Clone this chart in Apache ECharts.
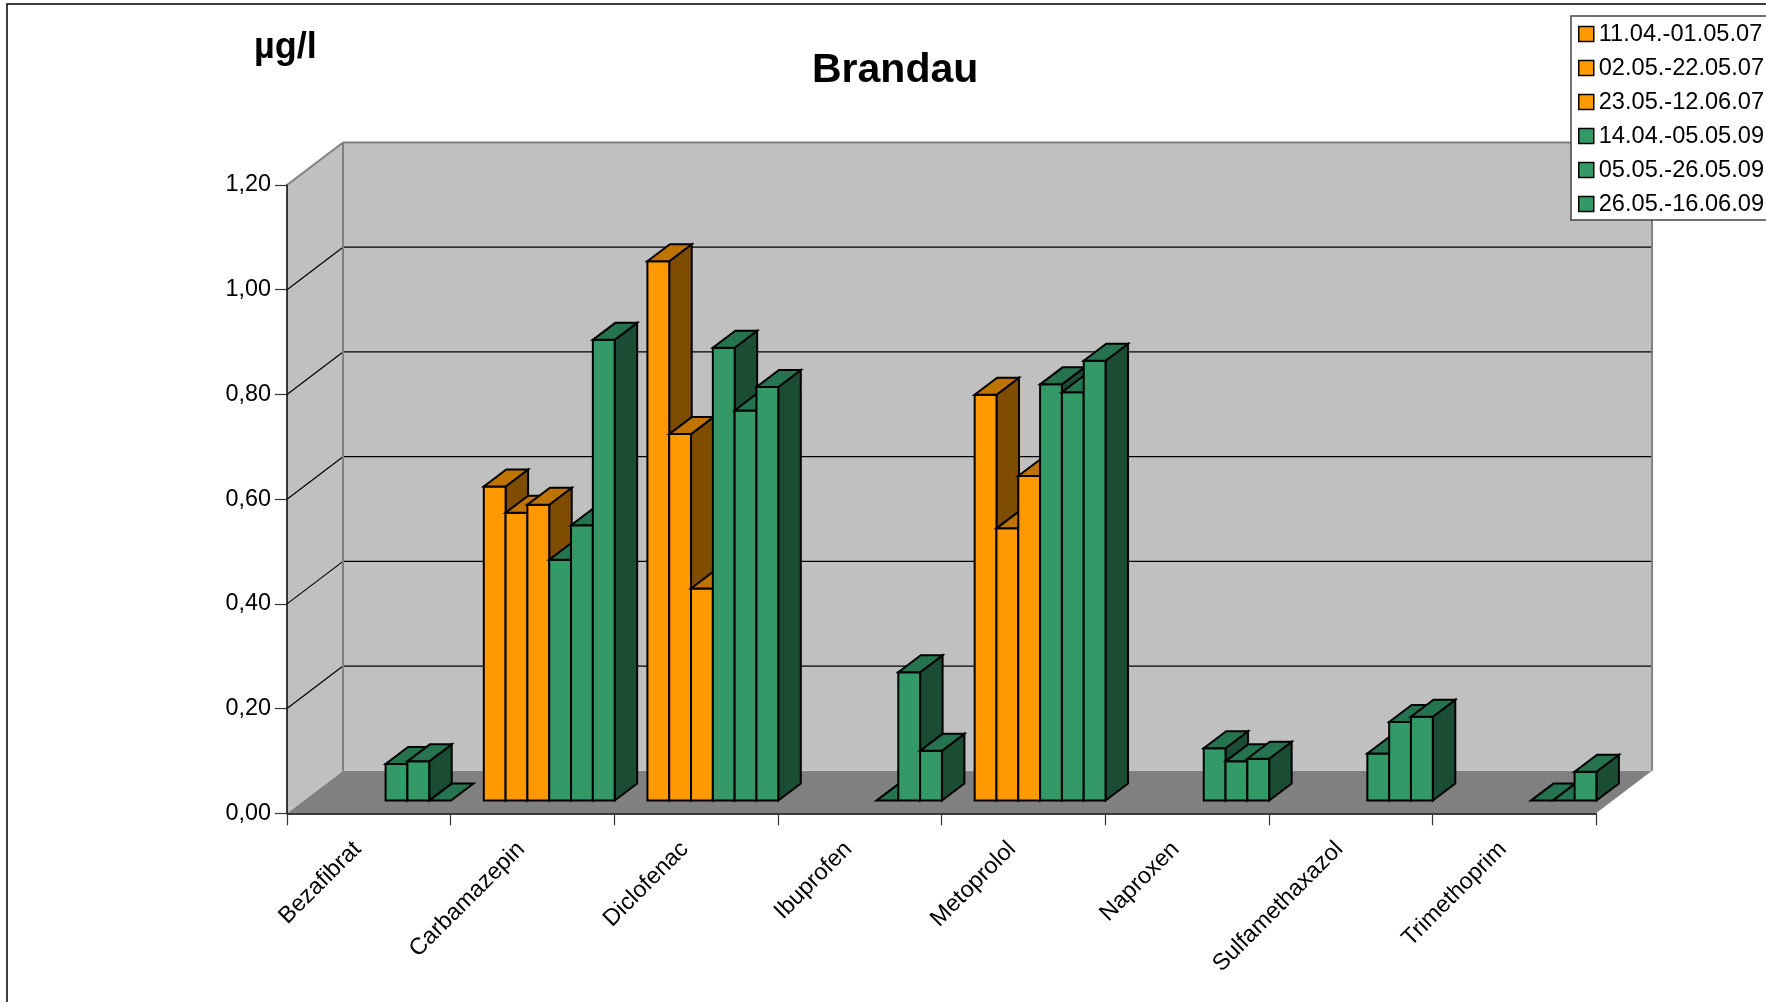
<!DOCTYPE html>
<html>
<head>
<meta charset="utf-8">
<style>html,body{margin:0;padding:0;background:#fff}#c{width:1766px;height:1002px}</style>
<script src="https://cdn.jsdelivr.net/npm/echarts@6/dist/echarts.min.js"></script>
</head>
<body>
<div id="c"></div>
<script>
const categories = ['Bezafibrat','Carbamazepin','Diclofenac','Ibuprofen','Metoprolol','Naproxen','Sulfamethaxazol','Trimethoprim'];
const periods = ['11.04.-01.05.07','02.05.-22.05.07','23.05.-12.06.07','14.04.-05.05.09','05.05.-26.05.09','26.05.-16.06.09'];
const yTicks = [0,0.2,0.4,0.6,0.8,1.0,1.2];
const s1 = [null,0.60,1.03,null,0.775,null,null,null];
const s2 = [null,0.55,0.70,null,0.52,null,null,null];
const s3 = [null,0.565,0.405,null,0.62,null,null,null];
const s4 = [0.07,0.46,0.865,0,0.795,0.10,0.09,0];
const s5 = [0.075,0.526,0.745,0.245,0.78,0.075,0.15,0];
const s6 = [0,0.88,0.79,0.095,0.84,0.08,0.16,0.055];
const seriesValues = [s1,s2,s3,s4,s5,s6];

const ORANGE = {front:'#FF9900', top:'#BF7300', side:'#7F4D00'};
const GREEN = {front:'#339966', top:'#267350', side:'#1A4D33'};
const palette = [ORANGE,ORANGE,ORANGE,GREEN,GREEN,GREEN];
const WALL_DX = 56, WALL_DY = 42.5, BAR_DX = 22.5, BAR_DY = 17;
const FLOOR_DX = 16.8, FLOOR_DY = 12.7, GAP = 0.1, BAR_W = 0.1333;
const EDGE = {stroke:'#000', lineWidth:2, lineJoin:'miter'};

function poly(points, fill, extra){
  return {type:'polygon', shape:{points}, silent:true, style:Object.assign({fill}, extra||{})};
}
function line(x1,y1,x2,y2,stroke,lw){
  return {type:'line', shape:{x1,y1,x2,y2}, silent:true, style:{stroke, lineWidth:lw, fill:null}};
}
function renderWalls(params, api){
  const band = api.size([1,0])[0];
  const x0 = api.coord([0,0])[0]-band/2;
  const x1 = api.coord([categories.length-1,0])[0]+band/2;
  const yb = api.coord([0,0])[1];
  const yt = api.coord([0,yTicks[yTicks.length-1]])[1];
  const c = [];
  c.push(poly([[x0,yb],[x1,yb],[x1+WALL_DX,yb-WALL_DY],[x0+WALL_DX,yb-WALL_DY]],'#808080'));
  c.push(poly([[x0,yb],[x0,yt],[x0+WALL_DX,yt-WALL_DY],[x0+WALL_DX,yb-WALL_DY]],'#C0C0C0'));
  c.push(poly([[x0+WALL_DX,yb-WALL_DY],[x0+WALL_DX,yt-WALL_DY],[x1+WALL_DX,yt-WALL_DY],[x1+WALL_DX,yb-WALL_DY]],'#C0C0C0'));
  yTicks.slice(1,-1).forEach(t=>{
    const y = api.coord([0,t])[1];
    c.push(line(x0,y,x0+WALL_DX,y-WALL_DY,'#000',1.2));
    c.push(line(x0+WALL_DX,y-WALL_DY,x1+WALL_DX,y-WALL_DY,'#000',1.2));
  });
  const g='#808080';
  c.push(line(x0,yt,x0+WALL_DX,yt-WALL_DY,g,2));
  c.push(line(x0+WALL_DX,yt-WALL_DY,x1+WALL_DX,yt-WALL_DY,g,2));
  c.push(line(x0+WALL_DX,yt-WALL_DY,x0+WALL_DX,yb-WALL_DY,g,2));
  c.push(line(x1+WALL_DX,yt-WALL_DY,x1+WALL_DX,yb-WALL_DY,g,2));
  return {type:'group', children:c};
}
function renderBar(params, api){
  const si = params.seriesIndex-1;
  const col = palette[si];
  const cat = api.value(0), val = api.value(1);
  const band = api.size([1,0])[0];
  const w = band*BAR_W;
  const base = api.coord([cat,0]);
  const top = api.coord([cat,val]);
  const xl = base[0]-band/2+FLOOR_DX+band*GAP+si*w;
  const xr = xl+w;
  const yb = base[1]-FLOOR_DY;
  const yt = top[1]-FLOOR_DY;
  const c = [];
  if(val>0){
    c.push(poly([[xr,yb],[xr,yt],[xr+BAR_DX,yt-BAR_DY],[xr+BAR_DX,yb-BAR_DY]],col.side,EDGE));
    c.push(poly([[xl,yb],[xr,yb],[xr,yt],[xl,yt]],col.front,EDGE));
  }
  c.push(poly([[xl,yt],[xr,yt],[xr+BAR_DX,yt-BAR_DY],[xl+BAR_DX,yt-BAR_DY]],col.top,EDGE));
  return {type:'group', children:c};
}
const barSeries = periods.map((name,i)=>({
  name, type:'custom', coordinateSystem:'cartesian2d', z:3, clip:false, silent:true,
  itemStyle:{color:palette[i].front},
  encode:{x:0,y:1},
  renderItem:renderBar,
  data:seriesValues[i].map((v,c)=>[c,v]).filter(d=>d[1]!==null)
}));

const chart = echarts.init(document.getElementById('c'),null,{renderer:'canvas'});
chart.setOption({
  animation:false,
  backgroundColor:'#fff',
  title:[
    {text:'Brandau',left:812,top:50,textStyle:{fontFamily:'Liberation Sans',fontSize:41,fontWeight:'bold',color:'#000'},padding:0},
    {text:'µg/l',left:254,top:30,textStyle:{fontFamily:'Liberation Sans',fontSize:36,fontWeight:'bold',color:'#000'},padding:0}
  ],
  legend:{
    orient:'vertical',left:1571,top:16,
    padding:[6,10,4,7],itemGap:10,itemWidth:15,itemHeight:15,
    backgroundColor:'#fff',borderColor:'#444',borderWidth:1.5,borderRadius:0,
    icon:'rect',
    itemStyle:{borderColor:'#000',borderWidth:1.5},
    textStyle:{fontFamily:'Liberation Sans',fontSize:23.6,lineHeight:23,color:'#000'},
    selectedMode:false,
    data:periods
  },
  grid:{left:287,right:170,top:185,bottom:188.7,containLabel:false},
  xAxis:{
    type:'category',data:categories,boundaryGap:true,z:2,
    axisLine:{show:true,lineStyle:{color:'#000',width:1.5}},
    axisTick:{show:true,length:12,alignWithLabel:false,lineStyle:{color:'#333',width:1.2}},
    axisLabel:{interval:0,rotate:45,margin:21,padding:[0,16,0,0],fontFamily:'Liberation Sans',fontSize:23.4,color:'#000'},
    splitLine:{show:false}
  },
  yAxis:{
    type:'value',min:0,max:1.2,interval:0.2,z:2,
    axisLine:{show:true,lineStyle:{color:'#000',width:1.5}},
    axisTick:{show:true,length:12,lineStyle:{color:'#333',width:1.2}},
    axisLabel:{margin:16,padding:[4,0,0,0],fontFamily:'Liberation Sans',fontSize:23.4,color:'#000',
      formatter:v=>v.toFixed(2).replace('.',',')},
    splitLine:{show:false}
  },
  graphic:[{type:'rect',silent:true,z:0,shape:{x:7,y:4,width:1800,height:1100},style:{fill:'none',stroke:'#000',lineWidth:1.5}}],
  series:[{type:'custom',name:'walls',coordinateSystem:'cartesian2d',z:1,clip:false,silent:true,
    encode:{x:0,y:1},renderItem:renderWalls,data:[[0,0]]}].concat(barSeries)
});
</script>
</body>
</html>
